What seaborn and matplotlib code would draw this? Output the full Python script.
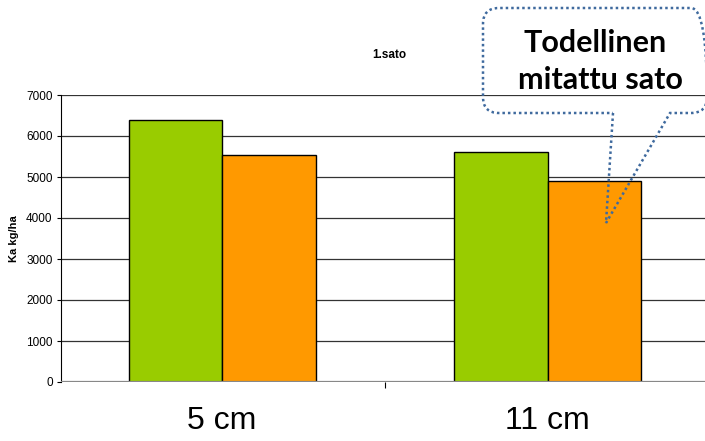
import matplotlib
matplotlib.use("Agg")
import matplotlib.pyplot as plt
from matplotlib.path import Path
from matplotlib.patches import PathPatch
import seaborn as sns
import pandas as pd

# Yield per plant-spacing, two series
categories = ["5 cm", "11 cm"]
series = ["Arvioitu sato", "Mitattu sato"]
values_estimated = [6390, 5610]
values_measured = [5530, 4900]
y_ticks = [0, 1000, 2000, 3000, 4000, 5000, 6000, 7000]

df = pd.DataFrame({
    "kategoria": categories * 2,
    "sarja": [series[0]] * 2 + [series[1]] * 2,
    "sato": values_estimated + values_measured,
})

sns.set_theme(style="white")
plt.rcParams["font.family"] = ["Liberation Sans", "DejaVu Sans"]
plt.rcParams.update({"text.color": "black", "axes.labelcolor": "black",
                     "xtick.color": "black", "ytick.color": "black"})

W, H = 705, 441
fig = plt.figure(figsize=(W / 100, H / 100), dpi=100)
ax = fig.add_axes([61 / W, 1 - 382 / H, (W - 61) / W, (382 - 95) / H])

sns.barplot(data=df, x="kategoria", y="sato", hue="sarja", order=categories,
            hue_order=series, palette=["#99CC00", "#FF9900"], width=0.575,
            edgecolor="black", linewidth=1.0, saturation=1, ax=ax, legend=False,
            zorder=3)

ax.set_ylim(0, 7000)
ax.set_xlim(-0.495, 1.483)
ax.set_yticks(y_ticks)
ax.set_yticklabels([str(v) for v in y_ticks], fontsize=8.5)
for v in y_ticks[1:]:
    ax.axhline(v, color="#333333", linewidth=0.9, zorder=1)
ax.axhline(0, color="#888888", linewidth=1.6, zorder=4)

ax.set_xticks([0.5])
ax.set_xticklabels([""])
ax.tick_params(axis="x", direction="out", length=4, width=0.8, bottom=True)
ax.tick_params(axis="y", direction="out", length=3, width=0.8, left=True, pad=3)
ax.set_xlabel("")
ax.set_ylabel("Ka kg/ha", fontsize=8, fontweight="bold", va="center")
ax.yaxis.set_label_coords(-47 / 644, 0.5)

for side in ["top", "right", "bottom"]:
    ax.spines[side].set_visible(False)
ax.spines["left"].set_color("black")
ax.spines["left"].set_linewidth(0.8)

# Category names below the axis
for i, name in enumerate(categories):
    ax.text(i, -0.135, name, transform=ax.get_xaxis_transform(), ha="center",
            va="center", fontsize=23)

fig.text(389 / W, 1 - 55 / H, "1.sato", ha="center", va="center",
         fontsize=8.5, fontweight="bold")


# Speech-bubble callout drawn in pixel space
def px(x, y):
    return (x / W, 1 - y / H)


left, right, top, bottom, r = 483, 707, 8, 113, 16
tail_l, tail_r, tip = 613, 670, (606, 223)
pts = [
    (tail_l, bottom), tip, (tail_r, bottom),
    (right - r, bottom), (right, bottom), (right, bottom - r),
    (right, top + r), (right, top), (right - r, top),
    (left + r, top), (left, top), (left, top + r),
    (left, bottom - r), (left, bottom), (left + r, bottom),
    (tail_l, bottom),
]
codes = [Path.MOVETO, Path.LINETO, Path.LINETO,
         Path.LINETO, Path.CURVE3, Path.CURVE3,
         Path.LINETO, Path.CURVE3, Path.CURVE3,
         Path.LINETO, Path.CURVE3, Path.CURVE3,
         Path.LINETO, Path.CURVE3, Path.CURVE3,
         Path.LINETO]
bubble = PathPatch(Path([px(*p) for p in pts], codes), transform=fig.transFigure,
                   facecolor="none", edgecolor="#3F6A9E", linewidth=1.8,
                   linestyle=(0, (1, 1.2)), zorder=10)
fig.add_artist(bubble)

bubble_font = dict(ha="center", va="baseline", fontsize=22, fontweight="bold",
                   family=["Lato", "DejaVu Sans"])
fig.text(595 / W, 1 - 52 / H, "Todellinen", **bubble_font)
fig.text(600 / W, 1 - 89 / H, "mitattu sato", **bubble_font)

fig.savefig("out.png", dpi=100)
